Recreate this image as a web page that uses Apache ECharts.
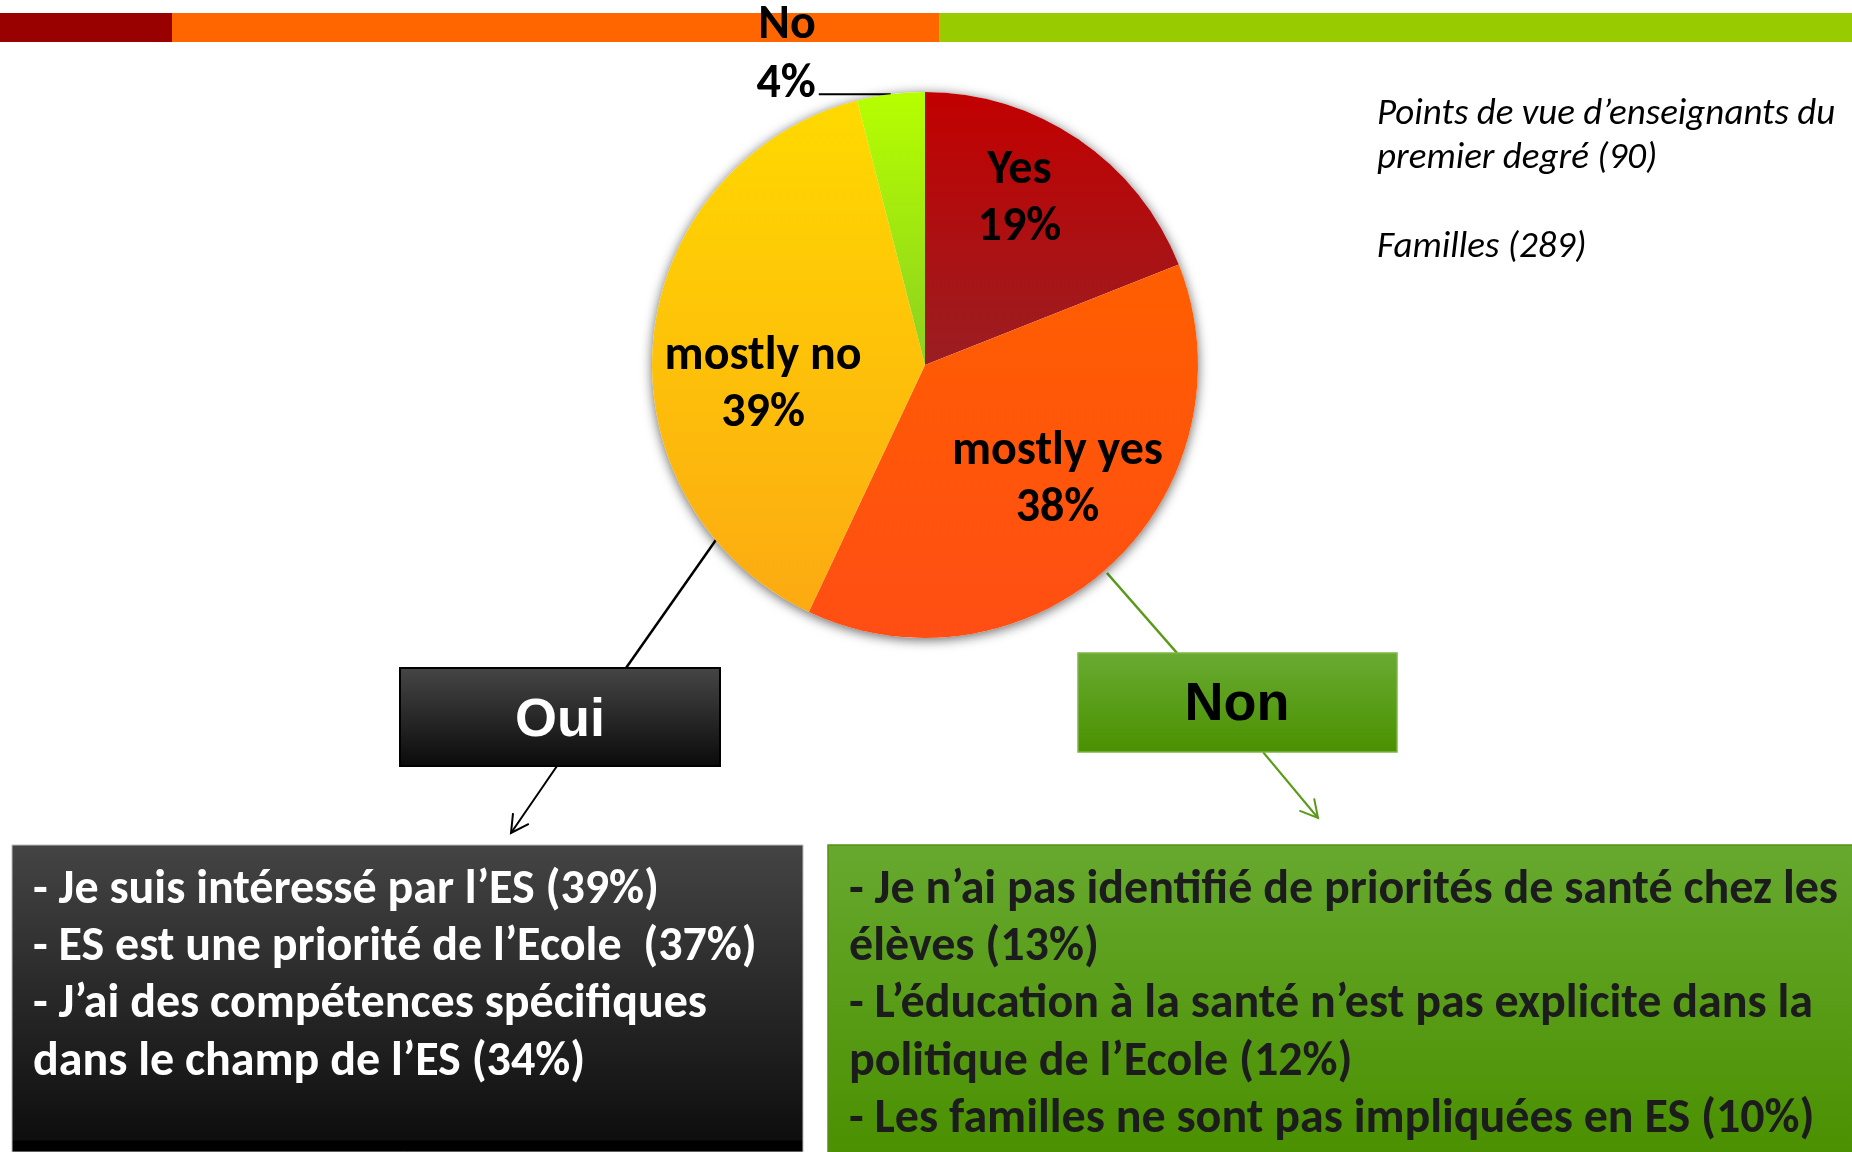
<!DOCTYPE html>
<html>
<head>
<meta charset="utf-8">
<script src="https://cdn.jsdelivr.net/npm/echarts@6/dist/echarts.min.js"></script>
<style>
  html, body { margin: 0; padding: 0; background: #fff; }
  #main { width: 1852px; height: 1152px; }
</style>
</head>
<body>
<div id="main"></div>
<script>
// pie slices, clockwise from 12 o'clock
const sliceNames = ['Yes', 'mostly yes', 'mostly no', 'No']
const sliceValues = [19, 38, 39, 4]

// reason boxes (line breaks as on the slide)
const ouiTitle = 'Oui'
const nonTitle = 'Non'
const ouiReasons = [
  '- Je suis intéressé par l’ES (39%)',
  '- ES est une priorité de l’Ecole  (37%)',
  '- J’ai des compétences spécifiques\ndans le champ de l’ES (34%)'
]
const nonReasons = [
  '- Je n’ai pas identifié de priorités de santé chez les\nélèves (13%)',
  '- L’éducation à la santé n’est pas explicite dans la\npolitique de l’Ecole (12%)',
  '- Les familles ne sont pas impliquées en ES (10%)'
]
const sampleNotes = ['Points de vue d’enseignants du\npremier degré (90)', 'Familles (289)']

const FONT = 'Calibri, Carlito, sans-serif'
const ARIAL = 'Arial, "Liberation Sans", sans-serif'

// top colour, bottom colour of each slice
const sliceColors = [
  ['#C20000', '#9A1E22'],
  ['#FF5E00', '#FF4E14'],
  ['#FFD900', '#FCAA12'],
  ['#B6FF00', '#8CD020']
]
// nudges for the inside labels, like the slide's hand placement
const labelShift = [[16, -50], [37, 14], [-23, 34], [0, 0]]

function vGrad(top, bottom) {
  return new echarts.graphic.LinearGradient(0, 0, 0, 1, [
    { offset: 0, color: top },
    { offset: 1, color: bottom }
  ])
}

function arrowHead(from, to, size) {
  let a = Math.atan2(to[1] - from[1], to[0] - from[0])
  let p = s => [to[0] - size * Math.cos(a + s), to[1] - size * Math.sin(a + s)]
  return [p(0.5), to, p(-0.5)]
}

let pieData = sliceNames.map((name, i) => {
  let item = {
    name: name,
    value: sliceValues[i],
    itemStyle: { color: vGrad(sliceColors[i][0], sliceColors[i][1]) }
  }
  if (name === 'No') {
    // label sits above its leader line, an empty rich line pushes it up
    item.label = {
      position: 'outside',
      formatter: '{b}\n{d}%\n{gap| }',
      distanceToLabelLine: 3,
      lineHeight: 59,
      rich: { gap: { lineHeight: 77, fontSize: 10 } }
    }
    item.labelLine = { show: true, length: 0, length2: 72, lineStyle: { color: '#000', width: 2 } }
  }
  return item
})
let total = sliceValues.reduce((a, b) => a + b, 0)

let graphics = []
// coloured bar along the top
graphics.push(
  { type: 'rect', shape: { x: 0, y: 13, width: 172, height: 29 }, style: { fill: '#990000' }, z: 0 },
  { type: 'rect', shape: { x: 172, y: 13, width: 767, height: 29 }, style: { fill: '#FF6600' }, z: 0 },
  { type: 'rect', shape: { x: 939, y: 13, width: 913, height: 29 }, style: { fill: '#99CC00' }, z: 0 }
)

// connectors pie -> Oui / Non -> reason boxes
let ouiArrow = [[557, 766], [511, 833]]
let nonArrow = [[1263, 752], [1318, 818]]
graphics.push(
  { type: 'line', shape: { x1: 718, y1: 537, x2: 626, y2: 668 }, style: { stroke: '#000', lineWidth: 2.5 }, z: 1 },
  { type: 'line', shape: { x1: ouiArrow[0][0], y1: ouiArrow[0][1], x2: ouiArrow[1][0], y2: ouiArrow[1][1] }, style: { stroke: '#000', lineWidth: 2 }, z: 1 },
  { type: 'polyline', shape: { points: arrowHead(ouiArrow[0], ouiArrow[1], 20) }, style: { stroke: '#000', lineWidth: 2, fill: null }, z: 1 },
  { type: 'line', shape: { x1: 1107, y1: 573, x2: 1177, y2: 653 }, style: { stroke: '#5A9A1A', lineWidth: 2.5 }, z: 1 },
  { type: 'line', shape: { x1: nonArrow[0][0], y1: nonArrow[0][1], x2: nonArrow[1][0], y2: nonArrow[1][1] }, style: { stroke: '#5A9A1A', lineWidth: 2 }, z: 1 },
  { type: 'polyline', shape: { points: arrowHead(nonArrow[0], nonArrow[1], 20) }, style: { stroke: '#5A9A1A', lineWidth: 2, fill: null }, z: 1 }
)

// Oui / Non boxes
graphics.push(
  { type: 'rect', shape: { x: 400, y: 668, width: 320, height: 98 }, style: { fill: vGrad('#464646', '#0a0a0a'), stroke: '#000', lineWidth: 2 }, z: 3 },
  { type: 'text', x: 560, y: 721, style: { text: ouiTitle, font: 'bold 54px ' + ARIAL, fill: '#fff', align: 'center', verticalAlign: 'middle', textAlign: 'center', textVerticalAlign: 'middle' }, z: 4 },
  { type: 'rect', shape: { x: 1078, y: 653, width: 319, height: 99 }, style: { fill: vGrad('#69AB32', '#4A9100'), stroke: '#7DB544', lineWidth: 1.5 }, z: 3 },
  { type: 'text', x: 1237, y: 705, style: { text: nonTitle, font: 'bold 54px ' + ARIAL, fill: '#000', align: 'center', verticalAlign: 'middle', textAlign: 'center', textVerticalAlign: 'middle' }, z: 4 }
)

// reason boxes at the bottom
graphics.push(
  { type: 'rect', shape: { x: 12, y: 845, width: 791, height: 307 },
    style: { fill: new echarts.graphic.LinearGradient(0, 0, 0, 1, [
      { offset: 0, color: '#444444' }, { offset: 0.96, color: '#0e0e0e' }, { offset: 0.962, color: '#000' }, { offset: 1, color: '#000' }
    ]), stroke: '#bbbbbb', lineWidth: 1 }, z: 3 },
  { type: 'text', x: 33, y: 862, style: { text: ouiReasons.join('\n'), font: 'bold 48px ' + FONT, lineHeight: 57.3, fill: '#fff', align: 'left', verticalAlign: 'top', textAlign: 'left', textVerticalAlign: 'top' }, z: 4 },
  { type: 'rect', shape: { x: 828, y: 845, width: 1030, height: 312 }, style: { fill: vGrad('#67A92F', '#4A9000'), stroke: '#5A9010', lineWidth: 1.5 }, z: 3 },
  { type: 'text', x: 849, y: 862, style: { text: nonReasons.join('\n'), font: 'bold 48px ' + FONT, lineHeight: 57.3, fill: '#1c1c1c', align: 'left', verticalAlign: 'top', textAlign: 'left', textVerticalAlign: 'top' }, z: 4 }
)

// sample sizes, top right
let noteStyle = { font: 'italic 37px ' + FONT, lineHeight: 43.3, fill: '#000', align: 'left', verticalAlign: 'top', textAlign: 'left', textVerticalAlign: 'top' }
graphics.push(
  { type: 'text', x: 1377, y: 93.5, style: Object.assign({ text: sampleNotes[0] }, noteStyle), z: 4 },
  { type: 'text', x: 1377, y: 226, style: Object.assign({ text: sampleNotes[1] }, noteStyle), z: 4 }
)

let chart = echarts.init(document.getElementById('main'), null, { renderer: 'canvas' })
chart.setOption({
  backgroundColor: '#fff',
  animation: false,
  graphic: graphics,
  series: [
    {
      // soft shadow under the whole pie
      type: 'pie',
      silent: true,
      center: [925, 365],
      radius: 273,
      z: 1,
      label: { show: false },
      labelLine: { show: false },
      itemStyle: { color: '#fff', shadowBlur: 12, shadowOffsetY: 2, shadowColor: 'rgba(0,0,0,0.6)' },
      data: [{ name: 'all', value: total }]
    },
    {
      type: 'pie',
      center: [925, 365],
      radius: 273,
      startAngle: 90,
      clockwise: true,
      avoidLabelOverlap: false,
      z: 2,
      itemStyle: { borderWidth: 0 },
      label: {
        show: true,
        position: 'inside',
        formatter: '{b}\n{d}%',
        fontFamily: FONT,
        fontWeight: 'bold',
        fontSize: 48,
        lineHeight: 57,
        color: '#000'
      },
      labelLayout: function (params) {
        let s = labelShift[params.dataIndex]
        return { dx: s[0], dy: s[1] }
      },
      data: pieData
    }
  ]
})
</script>
</body>
</html>
